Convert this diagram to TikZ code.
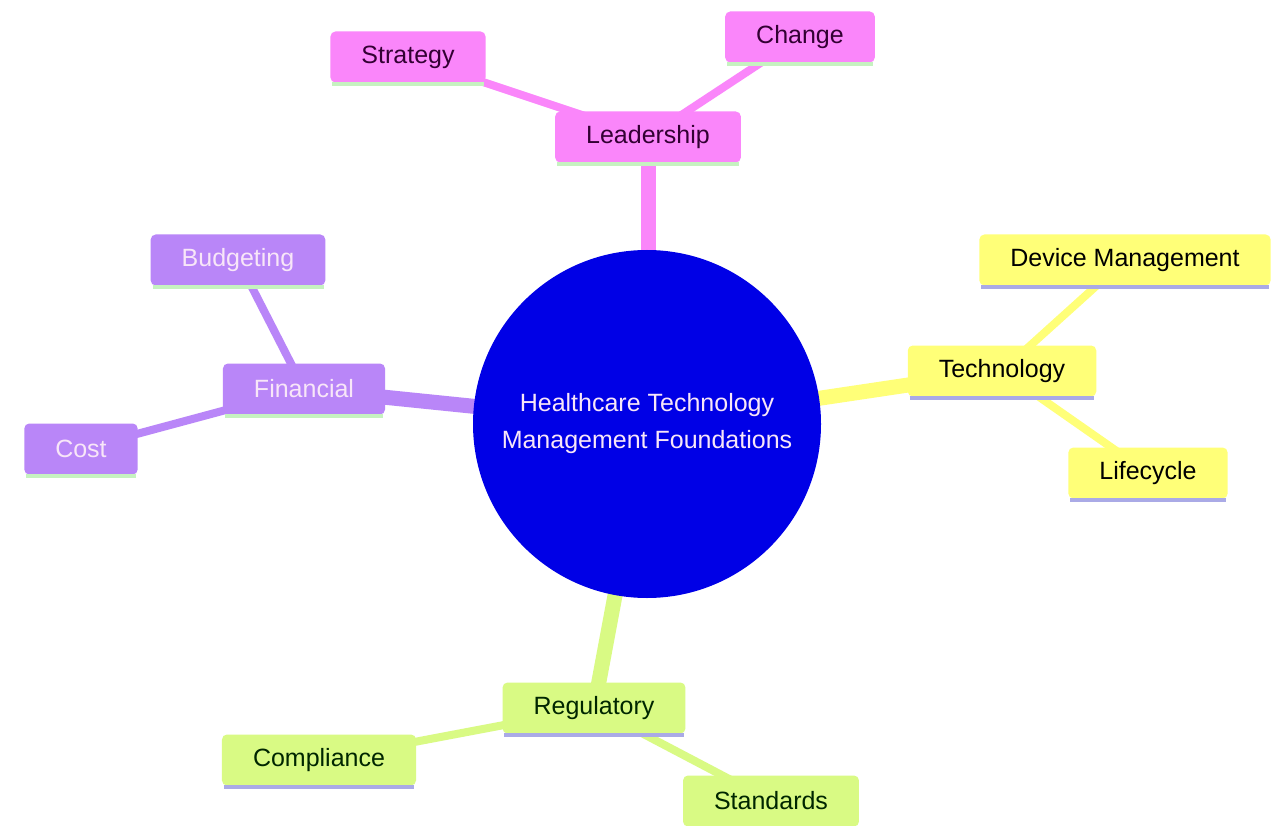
\documentclass[tikz,border=0pt]{standalone}
\usepackage{fontspec}
\setmainfont{Liberation Sans}
\usetikzlibrary{backgrounds}
\definecolor{pinkfill}{HTML}{FA86FA}
\definecolor{yelfill}{HTML}{FFFF78}
\definecolor{purfill}{HTML}{B986F8}
\definecolor{grnfill}{HTML}{D9FA84}
\definecolor{rootfill}{HTML}{0000E6}
\definecolor{greenline}{HTML}{C6F2C0}
\definecolor{lavline}{HTML}{AAAAE6}
\definecolor{pinktext}{HTML}{330033}
\definecolor{purtext}{HTML}{F8E6F8}
\begin{document}
\begin{tikzpicture}[x=1pt,y=-1pt,
  every node/.style={font=\fontsize{25}{37}\selectfont},
  box/.style={rounded corners=5pt, inner xsep=31pt, inner ysep=0pt, minimum height=51pt},
  lead/.style={box, fill=pinkfill, text=pinktext},
  tech/.style={box, fill=yelfill, text=black},
  fin/.style={box, fill=purfill, text=purtext},
  reg/.style={box, fill=grnfill, text=black!85!green},
  mainedge/.style={line width=15pt},
  subedge/.style={line width=8pt},
  uline/.style={line width=3.5pt, shorten >=2pt, shorten <=2pt}]
\useasboundingbox (0,0) rectangle (1271,826);
%root
\node[circle, fill=rootfill, text=purtext, minimum size=348pt, align=center] (root) at (647,424)
  {Healthcare Technology\\Management Foundations};
%leadership
\node[lead] (leadership) at (648,137) {Leadership};
\node[lead] (strategy) at (408,57) {Strategy};
\node[lead] (change) at (800,37) {Change};
%technology
\node[tech] (technology) at (1002,371) {Technology};
\node[tech] (device) at (1125,260) {Device Management};
\node[tech] (lifecycle) at (1148,473) {Lifecycle};
%financial
\node[fin] (financial) at (304,389) {Financial};
\node[fin] (budgeting) at (238,260) {Budgeting};
\node[fin] (cost) at (81,449) {Cost};
%regulatory
\node[reg] (regulatory) at (594,708) {Regulatory};
\node[reg] (compliance) at (319,760) {Compliance};
\node[reg] (standards) at (771,801) {Standards};
%underlines
\foreach \n in {leadership,strategy,change,financial,budgeting,cost}
  \draw[uline, greenline] ([yshift=-1.5pt]\n.south west) -- ([yshift=-1.5pt]\n.south east);
\foreach \n in {technology,device,lifecycle,regulatory,compliance,standards}
  \draw[uline, lavline] ([yshift=-1.5pt]\n.south west) -- ([yshift=-1.5pt]\n.south east);
%edges
\begin{scope}[on background layer]
\fill[white] (0,0) rectangle (1271,826);
\draw[mainedge, pinkfill] (root.center) -- (root.center -| leadership.center) -- (leadership.center);
\draw[subedge, pinkfill] (leadership.center) -- (strategy.center);
\draw[subedge, pinkfill] (leadership.center) -- (change.center);
\draw[mainedge, yelfill] (root.center) -- (technology.center);
\draw[subedge, yelfill] (technology.center) -- (device.center);
\draw[subedge, yelfill] (technology.center) -- (lifecycle.center);
\draw[mainedge, purfill] (root.center) -- (financial.center);
\draw[subedge, purfill] (financial.center) -- (budgeting.center);
\draw[subedge, purfill] (financial.center) -- (cost.center);
\draw[mainedge, grnfill] (root.center) -- (regulatory.center);
\draw[subedge, grnfill] (regulatory.center) -- (compliance.center);
\draw[subedge, grnfill] (regulatory.center) -- (standards.center);
\end{scope}
\end{tikzpicture}
\end{document}
